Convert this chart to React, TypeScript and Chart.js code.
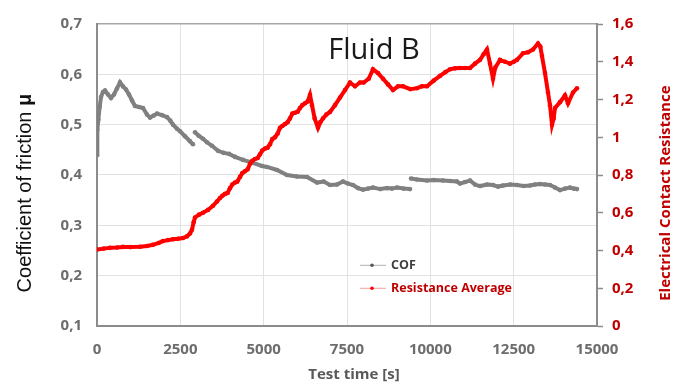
import React, { useEffect, useRef } from "react";
import { Chart, registerables } from "chart.js";

Chart.register(...registerables);

const chartTitle = "Fluid B";
const xTitle = "Test time [s]";
const leftTitle = "Coefficient of friction ";
const leftTitleSymbol = "μ";
const rightTitle = "Electrical Contact Resistance";
const cofLabel = "COF";
const resLabel = "Resistance Average";

const xTicks = [0, 2500, 5000, 7500, 10000, 12500, 15000];

// COF (left axis). null marks a break in the trace.
const cofTimes = [
  0, 10, 40, 80, 120, 180, 240, 330, 420, 510, 600, 690, 780, 870, 960, 1050, 1140, 1260, 1380, 1500,
  1590, 1700, 1800, 1950, 2100, 2200, 2280, 2400, 2490, 2640, 2790, 2880, 2910, 2940, 3050, 3180, 3300,
  3450, 3630, 3800, 3960, 4140, 4380, 4680, 4950, 5100, 5400, 5700, 6000, 6300, 6600, 6800, 6990, 7200,
  7380, 7530, 7680, 7830, 7980, 8130, 8280, 8500, 8700, 8850, 9000, 9200, 9390, 9405, 9420, 9600, 9900,
  10100, 10380, 10600, 10800, 10890, 11040, 11190, 11340, 11490, 11700, 11880, 12030, 12180, 12400,
  12600, 12800, 12990, 13140, 13290, 13440, 13590, 13740, 13890, 14040, 14190, 14300, 14400,
];
const cofValues = [
  0.44, 0.49, 0.51, 0.535, 0.555, 0.565, 0.568, 0.56, 0.553, 0.56, 0.572, 0.584, 0.576, 0.57, 0.56, 0.548,
  0.537, 0.535, 0.533, 0.52, 0.514, 0.518, 0.522, 0.519, 0.515, 0.508, 0.5, 0.492, 0.487, 0.477, 0.467,
  0.461, null, 0.485, 0.478, 0.472, 0.465, 0.458, 0.448, 0.444, 0.442, 0.436, 0.43, 0.424, 0.418, 0.416,
  0.41, 0.4, 0.397, 0.396, 0.385, 0.387, 0.38, 0.381, 0.387, 0.383, 0.38, 0.374, 0.371, 0.373, 0.375,
  0.372, 0.374, 0.373, 0.375, 0.373, 0.372, null, 0.393, 0.391, 0.389, 0.39, 0.389, 0.388, 0.387, 0.383,
  0.386, 0.389, 0.381, 0.378, 0.381, 0.38, 0.377, 0.379, 0.381, 0.38, 0.378, 0.379, 0.381, 0.382, 0.381,
  0.38, 0.375, 0.37, 0.373, 0.375, 0.373, 0.372,
];

// Resistance average (right axis)
const resTimes = [
  0, 200, 390, 600, 780, 1000, 1290, 1500, 1680, 1850, 1980, 2130, 2280, 2430, 2580, 2700, 2790, 2850,
  2900, 2940, 3060, 3180, 3330, 3480, 3600, 3690, 3760, 3840, 3920, 3990, 4060, 4140, 4210, 4290, 4360,
  4440, 4520, 4590, 4660, 4740, 4820, 4890, 4960, 5040, 5120, 5190, 5260, 5340, 5420, 5490, 5560, 5640,
  5720, 5790, 5860, 5940, 6020, 6090, 6160, 6240, 6320, 6390, 6450, 6530, 6630, 6700, 6780, 6880, 6990,
  7140, 7290, 7440, 7590, 7740, 7890, 8000, 8150, 8280, 8430, 8580, 8730, 8880, 9030, 9180, 9400, 9600,
  9750, 9900, 10100, 10290, 10450, 10590, 10740, 10890, 11040, 11190, 11340, 11490, 11600, 11700, 11790,
  11880, 11950, 12090, 12240, 12390, 12500, 12600, 12780, 12930, 13080, 13230, 13300, 13350, 13440, 13530,
  13590, 13650, 13700, 13740, 13890, 14040, 14130, 14280, 14400,
];
const resValues = [
  0.405, 0.41, 0.414, 0.416, 0.419, 0.418, 0.42, 0.424, 0.43, 0.44, 0.45, 0.455, 0.46, 0.462, 0.466, 0.475,
  0.49, 0.51, 0.55, 0.575, 0.59, 0.6, 0.615, 0.637, 0.66, 0.678, 0.69, 0.7, 0.705, 0.73, 0.75, 0.76, 0.765,
  0.79, 0.81, 0.82, 0.83, 0.86, 0.875, 0.885, 0.89, 0.91, 0.93, 0.94, 0.945, 0.963, 0.99, 1.0, 1.02, 1.05,
  1.06, 1.07, 1.08, 1.1, 1.125, 1.13, 1.135, 1.155, 1.17, 1.18, 1.19, 1.225, 1.17, 1.1, 1.05, 1.08, 1.1,
  1.12, 1.134, 1.17, 1.21, 1.25, 1.29, 1.27, 1.29, 1.29, 1.31, 1.36, 1.34, 1.31, 1.28, 1.25, 1.27, 1.27,
  1.255, 1.26, 1.27, 1.27, 1.3, 1.325, 1.345, 1.36, 1.365, 1.367, 1.367, 1.367, 1.39, 1.41, 1.44, 1.465,
  1.39, 1.31, 1.37, 1.41, 1.4, 1.39, 1.4, 1.41, 1.445, 1.45, 1.465, 1.497, 1.48, 1.43, 1.34, 1.237, 1.17,
  1.066, 1.1, 1.155, 1.186, 1.222, 1.18, 1.237, 1.26,
];

const GRAY = "#808080";
const RED = "#ff0000";
const DARK_RED = "#c00000";
const AXIS = "#8c8c8c";

const fmt = (v: number) => {
  const r = Math.round(v * 10) / 10;
  return Number.isInteger(r) ? String(r) : r.toFixed(1).replace(".", ",");
};

const textPlugin = {
  id: "customText",
  afterDraw(chart: any) {
    const { ctx, chartArea } = chart;
    const w = chartArea.right - chartArea.left;
    const h = chartArea.bottom - chartArea.top;
    ctx.save();
    // chart title inside plot
    ctx.font = '29px "Open Sans"';
    ctx.fillStyle = "#1a1a1a";
    ctx.textAlign = "center";
    ctx.textBaseline = "alphabetic";
    ctx.fillText(chartTitle, chartArea.left + w * 0.554, chartArea.top + 35);

    // x title
    ctx.font = 'bold 15px "Open Sans"';
    ctx.fillStyle = "#595959";
    ctx.textBaseline = "middle";
    ctx.fillText(xTitle, chartArea.left + w * 0.514, chartArea.bottom + 49);

    // left title
    ctx.save();
    ctx.translate(25, chartArea.top + h * 0.56);
    ctx.rotate(-Math.PI / 2);
    ctx.font = '20px "Liberation Sans"';
    const w1 = ctx.measureText(leftTitle).width;
    ctx.font = 'bold 20px "Liberation Sans"';
    const w2 = ctx.measureText(leftTitleSymbol).width;
    const start = -(w1 + w2) / 2;
    ctx.textAlign = "left";
    ctx.fillStyle = "#111";
    ctx.font = '20px "Liberation Sans"';
    ctx.fillText(leftTitle, start, 0);
    ctx.font = 'bold 20px "Liberation Sans"';
    ctx.fillText(leftTitleSymbol, start + w1, 0);
    ctx.restore();

    // right title
    ctx.save();
    ctx.translate(666, chartArea.top + h * 0.56);
    ctx.rotate(-Math.PI / 2);
    ctx.font = 'bold 15px "Open Sans"';
    ctx.fillStyle = DARK_RED;
    ctx.textAlign = "center";
    ctx.fillText(rightTitle, 0, 0);
    ctx.restore();

    // legend
    const items = [
      { label: cofLabel, line: "#b0b0b0", dot: "#555", text: "#404040", dy: 0 },
      { label: resLabel, line: "#f3a3a3", dot: RED, text: DARK_RED, dy: 23 },
    ];
    const lx = chartArea.left + w * 0.526;
    const ly = chartArea.top + h * 0.799;
    items.forEach((it) => {
      const y = ly + it.dy;
      ctx.strokeStyle = it.line;
      ctx.lineWidth = 1;
      ctx.beginPath();
      ctx.moveTo(lx, y);
      ctx.lineTo(lx + 26, y);
      ctx.stroke();
      ctx.fillStyle = it.dot;
      ctx.beginPath();
      ctx.arc(lx + 12, y, 1.8, 0, Math.PI * 2);
      ctx.fill();
      ctx.font = 'bold 12.5px "Open Sans"';
      ctx.fillStyle = it.text;
      ctx.textAlign = "left";
      ctx.textBaseline = "middle";
      ctx.fillText(it.label, lx + 31, y);
    });
    ctx.restore();
  },
};

export default function App() {
  const ref = useRef<HTMLCanvasElement | null>(null);

  useEffect(() => {
    if (!ref.current) return;
    const cofData = cofTimes.map((t, i) => ({ x: t, y: cofValues[i] }));
    const resData = resTimes.map((t, i) => ({ x: t, y: resValues[i] }));
    const chart = new Chart(ref.current, {
      type: "line",
      data: {
        datasets: [
          {
            label: resLabel,
            data: resData as any,
            yAxisID: "y1",
            borderColor: RED,
            backgroundColor: RED,
            borderWidth: 4,
            pointRadius: 2.3,
            pointBorderWidth: 0,
            tension: 0,
            order: 0,
          },
          {
            label: cofLabel,
            data: cofData as any,
            yAxisID: "y",
            borderColor: GRAY,
            backgroundColor: GRAY,
            borderWidth: 4,
            pointRadius: 2.3,
            pointBorderWidth: 0,
            tension: 0,
            order: 1,
          },
        ],
      },
      options: {
        animation: false,
        responsive: true,
        maintainAspectRatio: false,
        layout: { padding: { top: 17, left: 0, right: 0, bottom: 0 } },
        plugins: { legend: { display: false }, tooltip: { enabled: false }, title: { display: false } },
        scales: {
          x: {
            type: "linear",
            min: 0,
            max: 15000,
            afterBuildTicks: (s: any) => {
              s.ticks = xTicks.map((v) => ({ value: v }));
            },
            afterFit: (s: any) => {
              s.height = 61;
            },
            ticks: {
              padding: 15,
              color: "#6d6d6d",
              font: { family: "Open Sans", weight: "bold", size: 15 },
              callback: (v: any) => String(v),
              maxRotation: 0,
            },
            grid: { color: "#e2e2e2", drawTicks: false, lineWidth: 1 },
            border: { color: AXIS, width: 2 },
          },
          y: {
            position: "left",
            min: 0.1,
            max: 0.7,
            ticks: {
              stepSize: 0.1,
              padding: 15,
              color: "#6d6d6d",
              font: { family: "Open Sans", weight: "bold", size: 15 },
              callback: (v: any) => fmt(Number(v)),
            },
            afterFit: (s: any) => {
              s.width = 97;
            },
            grid: {
              drawTicks: false,
              color: (c: any) => (c.tick && Math.abs(c.tick.value - 0.7) < 1e-6 ? "#a6a6a6" : "#e2e2e2"),
              lineWidth: (c: any) => (c.tick && Math.abs(c.tick.value - 0.7) < 1e-6 ? 1.5 : 1),
            },
            border: { color: AXIS, width: 2 },
          },
          y1: {
            position: "right",
            min: 0,
            max: 1.6,
            ticks: {
              stepSize: 0.2,
              padding: 9,
              color: DARK_RED,
              font: { family: "Open Sans", weight: "bold", size: 15 },
              callback: (v: any) => fmt(Number(v)),
            },
            afterFit: (s: any) => {
              s.width = 90;
            },
            grid: { drawOnChartArea: false, drawTicks: true, tickLength: 6, tickColor: AXIS, tickWidth: 1.5 },
            border: { color: AXIS, width: 2 },
          },
        },
      },
      plugins: [textPlugin],
    });
    return () => chart.destroy();
  }, []);

  return (
    <div style={{ position: "fixed", left: 0, top: 0, width: 687, height: 387, background: "#fff" }}>
      <canvas ref={ref} />
    </div>
  );
}
